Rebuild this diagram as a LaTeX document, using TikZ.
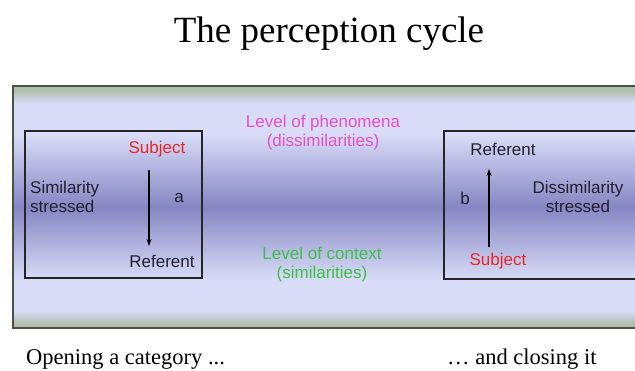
\documentclass[tikz,border=0pt]{standalone}
\usepackage{fontspec}
\setmainfont{Liberation Serif}
\newfontfamily\arialf{Liberation Sans}
\usetikzlibrary{arrows.meta}
\definecolor{bandgreen}{HTML}{B2BFAE}
\definecolor{bandlight}{HTML}{D8DCF7}
\definecolor{bandmid}{HTML}{8686C3}
\definecolor{bandedge}{HTML}{4A5248}
\definecolor{subjred}{HTML}{E82828}
\definecolor{phenmag}{HTML}{E850C4}
\definecolor{ctxgreen}{HTML}{3CC046}
\definecolor{inktext}{HTML}{202030}
\pgfdeclareverticalshading{bandshade}{100bp}{%
  color(0bp)=(bandgreen); color(25bp)=(bandgreen); color(26bp)=(bandgreen);
  color(28.5bp)=(bandlight); color(35bp)=(bandlight); color(50bp)=(bandmid);
  color(65bp)=(bandlight); color(71.5bp)=(bandlight); color(74bp)=(bandgreen);
  color(75bp)=(bandgreen); color(100bp)=(bandgreen)}
\tikzset{
  lbl/.style={font=\arialf\fontsize{17}{19}\selectfont, text=inktext, inner sep=0pt},
  subj/.style={lbl, text=subjred},
  phen/.style={lbl, text=phenmag, align=center},
  ctx/.style={lbl, text=ctxgreen, align=center},
  catbox/.style={draw=black!85, line width=1.1pt},
  arr/.style={draw=black, line width=1.1pt, -{Stealth[length=7pt,width=5pt]}},
  caption/.style={font=\fontsize{22.5}{24}\selectfont, inner sep=0pt}
}
\begin{document}
\begin{tikzpicture}[x=1pt,y=-1pt]
\useasboundingbox (0,0) rectangle (635,370);
\fill[white] (0,0) rectangle (635,370);
\clip (0,0) rectangle (635,370);
% title
\node[font=\fontsize{37}{40}\selectfont, inner sep=0pt, anchor=base] (title) at (329,42) {The perception cycle};
% band
\shade[shading=bandshade, draw=bandedge, line width=1.4pt] (13,86) rectangle (645,328);
% boxes
\draw[catbox] (25,131) rectangle (202,278);
\draw[catbox] (444,131) rectangle (645,279);
% left box
\node[subj] (subjL) at (157,149) {Subject};
\node[lbl] (refL) at (162,261) {Referent};
\node[lbl] (aL) at (179,198) {a};
\node[lbl, align=left, anchor=west] (simL) at (30,197) {Similarity\\stressed};
\coordinate (aTop) at (149,170);
\coordinate (aBot) at (149,246);
\draw[arr] (aTop) -- (aBot);
% right box
\node[lbl] (refR) at (503,149) {Referent};
\node[subj] (subjR) at (498,261) {Subject};
\node[lbl] (bR) at (465,198) {b};
\node[lbl, align=center] (disR) at (578,197) {Dissimilarity\\stressed};
\coordinate (bBot) at (489,247);
\coordinate (bTop) at (489,169);
\draw[arr] (bBot) -- (bTop);
% middle
\node[phen] (phen) at (323,133) {Level of phenomena\\(dissimilarities)};
\node[ctx] (ctx) at (322,265) {Level of context\\(similarities)};
% captions
\node[caption, anchor=base west] (open) at (26,364) {Opening a category ...};
\node[caption, anchor=base west] (close) at (447,364) {… and closing it};
\end{tikzpicture}
\end{document}
